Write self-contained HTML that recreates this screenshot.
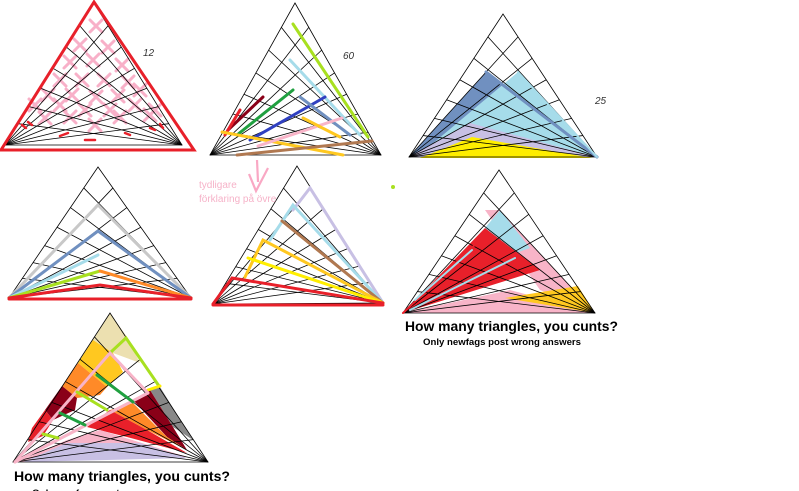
<!DOCTYPE html>
<html><head><meta charset="utf-8"><style>
html,body{margin:0;padding:0;background:#fff;width:799px;height:491px;overflow:hidden}
svg{display:block}
</style></head><body>
<svg id="s" width="799" height="491" viewBox="0 0 799 491" xmlns="http://www.w3.org/2000/svg">
<g id="fills"></g>
<g id="x1" stroke="#f8b0c8" stroke-width="3" stroke-linecap="round"></g>
<g id="grid" stroke="#000" stroke-width="0.8" fill="none"></g>
<g id="over" fill="none" stroke-linecap="round"></g>
<g font-family="Liberation Sans, sans-serif">
<text x="143" y="56" font-size="10" font-style="italic" fill="#333">12</text>
<text x="343" y="59" font-size="10" font-style="italic" fill="#333">60</text>
<text x="595" y="104" font-size="10" font-style="italic" fill="#333">25</text>
<text x="199" y="188" font-size="10" fill="#f6b2c8">tydligare</text>
<text x="199" y="202" font-size="10" fill="#f6b2c8">förklaring på övre</text>
<text x="405" y="331" font-size="13.5" font-weight="bold" fill="#000" textLength="213" lengthAdjust="spacingAndGlyphs">How many triangles, you cunts?</text>
<text x="423" y="345" font-size="9" font-weight="bold" fill="#000" textLength="158" lengthAdjust="spacingAndGlyphs">Only newfags post wrong answers</text>
<text x="14" y="481" font-size="14" font-weight="bold" fill="#000" textLength="216" lengthAdjust="spacingAndGlyphs">How many triangles, you cunts?</text>
<text x="32" y="496" font-size="9" font-weight="bold" fill="#000" textLength="162" lengthAdjust="spacingAndGlyphs">Only newfags post wrong answers</text>
</g>
<circle cx="393" cy="187" r="2" fill="#a8e020"/>
<path d="M257 160 L258 182 M249 174 L256 191 L268 168" stroke="#f9a8c4" stroke-width="2.2" fill="none"/>
</svg>
<script>
var NS="http://www.w3.org/2000/svg";
function el(p,t,a){var e=document.createElementNS(NS,t);for(var k in a)e.setAttribute(k,a[k]);document.getElementById(p).appendChild(e);return e;}
var T=[[[94,3],[5,145],[182,145]],[[295,3],[210,155],[381,155]],[[503,14],[409,157],[597,157]],
[[98,167],[9,298],[191,298]],[[297,166],[213,304],[383,303]],[[499,170],[403,313],[595,313]],[[110,313],[13,462],[208,462]]];
function poly(p,pts,fill,op){el(p,'polygon',{points:pts.map(function(q){return q.join(',')}).join(' '),fill:fill,'fill-opacity':op||1});}
function ln(p,a,b,c,w){el(p,'line',{x1:a[0],y1:a[1],x2:b[0],y2:b[1],stroke:c,'stroke-width':w||3});}
function pl(p,pts,c,w){el(p,'polyline',{points:pts.map(function(q){return q.join(',')}).join(' '),stroke:c,'stroke-width':w||3,fill:'none'});}
// T3
poly('fills',[[409,157],[486,72],[597,157]],'#7090c0');
poly('fills',[[425,150],[518,72],[597,157]],'#a6dcea');
poly('fills',[[409,157],[470,123],[597,157]],'#c8c0e4');
poly('fills',[[420,158],[472,137],[592,158]],'#ffee00');
// T6
poly('fills',[[485,210],[500,210],[595,313],[540,290]],'#f8b4c8');
poly('fills',[[403,313],[510,290],[595,313]],'#f8b4c8');
poly('fills',[[485,228],[500,210],[530,248],[510,255]],'#a6dcea');
poly('fills',[[403,313],[485,228],[540,270]],'#e8202a');
poly('fills',[[505,298],[578,286],[595,313]],'#ffc820');
// T7
poly('fills',[[110,313],[127,337],[140,363],[113,353],[93,340]],'#ece0b0');
poly('fills',[[93,340],[113,353],[123,372],[107,387],[78,363]],'#ffc820');
poly('fills',[[78,363],[107,387],[100,395],[77,398],[62,386]],'#ff8a28');
poly('fills',[[62,386],[77,398],[75,410],[53,420],[45,410]],'#8a0018');
poly('fills',[[45,410],[53,420],[43,436],[28,442],[32,428]],'#e8202a');
poly('fills',[[150,390],[160,387],[193,440],[173,427]],'#888888');
poly('fills',[[133,400],[150,390],[173,427],[187,450],[167,437]],'#8a0018');
poly('fills',[[110,410],[133,403],[167,437],[187,450],[147,430]],'#ff8a28');
poly('fills',[[87,427],[110,410],[147,430],[187,453],[127,437]],'#e8202a');
poly('fills',[[67,440],[100,430],[187,457],[17,462]],'#f8b4c8');
poly('fills',[[23,462],[67,443],[140,443],[187,458]],'#c8c0e4');
// T1 crosses
var xs=[[96,26],[80,45],[108,47],[70,62],[93,60],[122,65],[60,80],[82,80],[104,80],[128,82],[48,95],[72,95],[96,97],[118,96],[140,90],[35,105],[60,105],[85,110],[110,110],[135,105],[155,110],[45,118],[70,117],[120,117],[150,115],[95,125]];
xs.forEach(function(p){var d=6;ln('x1',[p[0]-d,p[1]-d],[p[0]+d,p[1]+d],'#f8b0c8',3);ln('x1',[p[0]-d,p[1]+d],[p[0]+d,p[1]-d],'#f8b0c8',3);});
// grids
T.forEach(function(t){var A=t[0],L=t[1],R=t[2];
 el('grid','polygon',{points:[A,L,R].map(function(q){return q.join(',')}).join(' ')});
 var fs=[0.16,0.31,0.46,0.6,0.73,0.85];
 fs.forEach(function(f){
  var P=[A[0]+(R[0]-A[0])*f,A[1]+(R[1]-A[1])*f];var Q=[A[0]+(L[0]-A[0])*f,A[1]+(L[1]-A[1])*f];
  ln('grid',L,P,'#000',0.8);ln('grid',R,Q,'#000',0.8);});
});
// T1
el('over','polygon',{points:'94,2 1,150 194,150',stroke:'#e8202a','stroke-width':3,fill:'none'});
[[22,125,26,128],[28,122,32,125],[60,136,68,133],[85,140,95,140],[125,133,130,135],[150,128,155,130],[160,124,163,128]].forEach(function(a){ln('over',[a[0],a[1]],[a[2],a[3]],'#e8202a',2.5);});
// T2
ln('over',[293,24],[368,137],'#a8e020');ln('over',[290,60],[360,135],'#a6dcea');
ln('over',[293,90],[237,135],'#20a040');ln('over',[263,97],[228,130],'#8a0018');
ln('over',[240,110],[225,135],'#e8202a');ln('over',[325,97],[250,140],'#3040c0');
ln('over',[300,97],[350,135],'#7090c0');ln('over',[222,132],[343,155],'#ffc820');
ln('over',[342,118],[258,146],'#f8b4c8');ln('over',[303,118],[340,137],'#ffc820');
ln('over',[372,141],[237,155],'#b07850');
// T3 line
ln('over',[486,72],[597,157],'#7090c0',3);ln('over',[518,72],[597,157],'#a6dcea',2);
// T4
pl('over',[[9,298],[98,205],[191,298]],'#c8c8c8');pl('over',[[9,298],[98,231],[191,298]],'#7090c0');
ln('over',[9,298],[98,255],'#a6dcea');ln('over',[9,298],[100,271],'#a8e020');ln('over',[100,271],[191,298],'#ff8a28');
pl('over',[[9,298],[100,285],[191,298]],'#e8202a');ln('over',[9,299],[191,299],'#e8202a');
// T5
pl('over',[[293,210],[310,188],[383,303]],'#c8c0e4');pl('over',[[270,240],[293,205],[383,303]],'#a6dcea');
ln('over',[282,221],[383,303],'#b07850');pl('over',[[245,277],[263,240],[383,303]],'#ffc820');
ln('over',[248,258],[383,303],'#ffee00');pl('over',[[213,304],[232,278],[383,303]],'#e8202a');
ln('over',[213,305],[383,305],'#e8202a');
// T6 lines
ln('over',[403,313],[480,240],'#e8202a',2);ln('over',[415,300],[472,250],'#a6dcea',2);ln('over',[410,310],[515,258],'#a6dcea',2);
// T7 lines
pl('over',[[111,352],[126,338],[159,386]],'#a8e020');ln('over',[148,390],[160,386],'#ffee00');
pl('over',[[15,462],[110,353],[148,393]],'#f8b4c8');ln('over',[15,462],[148,393],'#f8b4c8');
ln('over',[97,375],[133,402],'#20a040');ln('over',[77,392],[107,410],'#a8e020');
ln('over',[60,413],[85,425],'#20a040');ln('over',[43,434],[58,438],'#a8e020');
</script>
</body></html>
